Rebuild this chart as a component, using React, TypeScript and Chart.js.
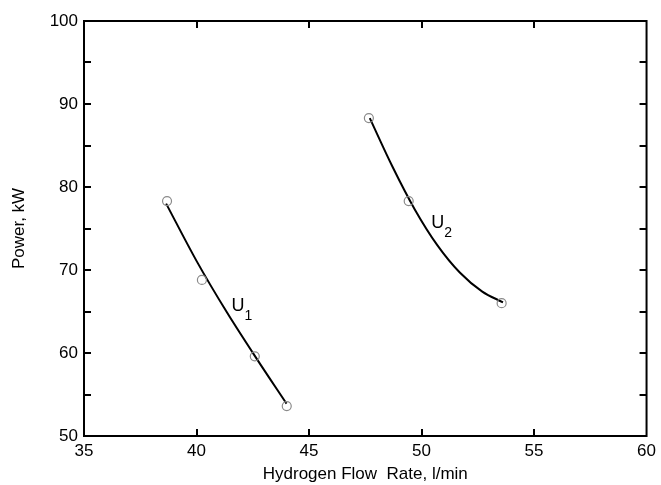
import React, { useEffect, useRef } from "react";
import { Chart, registerables } from "chart.js";

Chart.register(...registerables);

// Measured points (Hydrogen flow rate l/min, Power kW)
const u1FlowPoints = [38.69, 40.24, 42.59, 44.01];
const u1PowerPoints = [78.3, 68.8, 59.6, 53.6];
const u2FlowPoints = [47.66, 49.43, 53.56];
const u2PowerPoints = [88.3, 78.3, 66.0];

// Fitted curves
const u1CurveFlow = [38.65, 40.0, 41.35, 42.7, 44.0];
const u1CurvePower = [78.0, 71.1, 64.9, 59.2, 53.9];
const u2CurveFlow = [47.7, 48.7, 49.7, 50.7, 51.7, 52.7, 53.62];
const u2CurvePower = [88.3, 82.5, 77.3, 73.0, 69.7, 67.4, 66.1];

const xTicks = [35, 40, 45, 50, 55, 60];
const yTicks = [50, 60, 70, 80, 90, 100];
const yMinorTicks = [55, 65, 75, 85, 95];

const curveLabels = [
  { main: "U", sub: "1", x: 41.84, y: 65.7 },
  { main: "U", sub: "2", x: 50.72, y: 75.7 },
];

const xTitle = "Hydrogen Flow  Rate, l/min";
const yTitle = "Power, kW";

const FONT = "'Liberation Sans', Arial, sans-serif";

const pts = (xs: number[], ys: number[]) => xs.map((x, i) => ({ x, y: ys[i] }));

const decorPlugin = {
  id: "decor",
  afterDraw(chart: any) {
    const { ctx, chartArea, scales } = chart;
    const xs = scales.x;
    const ys = scales.y;
    const { left, right, top, bottom } = chartArea;
    ctx.save();
    ctx.strokeStyle = "#000";
    ctx.lineWidth = 2;
    ctx.strokeRect(left, top, right - left, bottom - top);
    const tl = 7;
    ctx.beginPath();
    xTicks.slice(1, -1).forEach((v) => {
      const px = Math.round(xs.getPixelForValue(v));
      ctx.moveTo(px, bottom);
      ctx.lineTo(px, bottom - tl);
      ctx.moveTo(px, top);
      ctx.lineTo(px, top + tl);
    });
    [...yTicks.slice(1, -1), ...yMinorTicks].forEach((v) => {
      const py = Math.round(ys.getPixelForValue(v));
      ctx.moveTo(left, py);
      ctx.lineTo(left + tl, py);
      ctx.moveTo(right, py);
      ctx.lineTo(right - tl, py);
    });
    ctx.stroke();

    ctx.fillStyle = "#000";
    ctx.font = `17px ${FONT}`;
    ctx.textAlign = "center";
    ctx.textBaseline = "middle";
    ctx.fillText(xTitle, (left + right) / 2, 474);
    ctx.save();
    ctx.translate(19, (top + bottom) / 2);
    ctx.rotate(-Math.PI / 2);
    ctx.fillText(yTitle, 0, 0);
    ctx.restore();

    curveLabels.forEach((l) => {
      const px = xs.getPixelForValue(l.x);
      const py = ys.getPixelForValue(l.y);
      ctx.font = `18px ${FONT}`;
      ctx.textAlign = "center";
      ctx.fillText(l.main, px, py);
      const w = ctx.measureText(l.main).width;
      ctx.font = `14px ${FONT}`;
      ctx.textAlign = "left";
      ctx.fillText(l.sub, px + w / 2, py + 10);
    });
    ctx.restore();
  },
};

export default function App() {
  const canvasRef = useRef<HTMLCanvasElement | null>(null);
  useEffect(() => {
    if (!canvasRef.current) return;
    const markerStyle = {
      showLine: false,
      pointRadius: 4.5,
      pointBackgroundColor: "rgba(255,255,255,0)",
      pointBorderColor: "#8a8a8a",
      pointBorderWidth: 1.2,
    };
    const curveStyle = {
      showLine: true,
      pointRadius: 0,
      borderColor: "#000",
      borderWidth: 2,
      cubicInterpolationMode: "monotone" as const,
      fill: false,
    };
    const chart = new Chart(canvasRef.current, {
      type: "scatter",
      data: {
        datasets: [
          { label: "U1 data", data: pts(u1FlowPoints, u1PowerPoints), ...markerStyle },
          { label: "U2 data", data: pts(u2FlowPoints, u2PowerPoints), ...markerStyle },
          { label: "U1 fit", data: pts(u1CurveFlow, u1CurvePower), ...curveStyle },
          { label: "U2 fit", data: pts(u2CurveFlow, u2CurvePower), ...curveStyle },
        ],
      },
      options: {
        animation: false,
        responsive: false,
        maintainAspectRatio: false,
        layout: { padding: { left: 0, top: 21, right: 14, bottom: 0 } },
        plugins: { legend: { display: false }, tooltip: { enabled: false } },
        scales: {
          x: {
            type: "linear",
            min: 35,
            max: 60,
            afterBuildTicks: (s: any) => {
              s.ticks = xTicks.map((v) => ({ value: v }));
            },
            afterFit: (s: any) => {
              s.height = 49;
            },
            grid: { display: false, drawTicks: false },
            border: { display: false },
            ticks: {
              color: "#000",
              padding: 5,
              font: { family: FONT, size: 17 },
              maxRotation: 0,
            },
          },
          y: {
            type: "linear",
            min: 50,
            max: 100,
            afterBuildTicks: (s: any) => {
              s.ticks = yTicks.map((v) => ({ value: v }));
            },
            afterFit: (s: any) => {
              s.width = 84;
            },
            grid: { display: false, drawTicks: false },
            border: { display: false },
            ticks: {
              color: "#000",
              padding: 6,
              font: { family: FONT, size: 17 },
            },
          },
        },
      },
      plugins: [decorPlugin],
    });
    return () => chart.destroy();
  }, []);
  return (
    <div style={{ position: "fixed", left: 0, top: 0, width: 661, height: 485, background: "#fff" }}>
      <canvas ref={canvasRef} width={661} height={485} />
    </div>
  );
}
